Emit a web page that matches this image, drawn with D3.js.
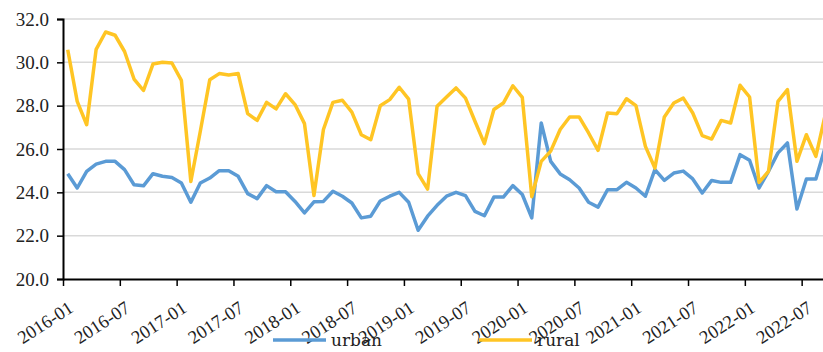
<!DOCTYPE html>
<html>
<head>
<meta charset="utf-8">
<script src="https://cdn.jsdelivr.net/npm/d3@7"></script>
<style>
  body { margin: 0; background: #fff; }
  svg { display: block; }
</style>
</head>
<body>
<div id="chart"></div>
<script>
// monthly categories 2016-01 .. 2022-09
var months = d3.utcMonth.range(new Date(Date.UTC(2016, 0, 1)), new Date(Date.UTC(2022, 9, 1)))
  .map(d3.utcFormat("%Y-%m"));

var urban = [24.86, 24.2, 24.97, 25.3, 25.43, 25.43, 25.05, 24.35, 24.3, 24.86, 24.74, 24.68,
  24.43, 23.54, 24.43, 24.66, 25.0, 25.0, 24.74, 23.94, 23.71, 24.31, 24.03, 24.03,
  23.58, 23.05, 23.56, 23.58, 24.05, 23.82, 23.51, 22.82, 22.9, 23.6, 23.82, 24.0,
  23.54, 22.25, 22.9, 23.4, 23.82, 24.0, 23.85, 23.12, 22.92, 23.78, 23.78, 24.31,
  23.9, 22.82, 27.2, 25.43, 24.85, 24.58, 24.2, 23.54, 23.32, 24.12, 24.12, 24.46,
  24.2, 23.82, 25.05, 24.55, 24.89, 24.98, 24.62, 23.97, 24.55, 24.46, 24.46, 25.74,
  25.48, 24.2, 24.97, 25.82, 26.28, 23.23, 24.62, 24.62, 26.1];

var rural = [30.58, 28.2, 27.12, 30.6, 31.4, 31.25, 30.5, 29.23, 28.7, 29.92, 30.0, 29.97,
  29.17, 24.5, 26.82, 29.2, 29.48, 29.42, 29.48, 27.63, 27.32, 28.15, 27.85, 28.55,
  28.05, 27.17, 23.85, 26.9, 28.15, 28.25, 27.7, 26.66, 26.43, 28.0, 28.28, 28.85,
  28.3, 24.86, 24.15, 27.97, 28.4, 28.82, 28.35, 27.28, 26.25, 27.82, 28.12, 28.92,
  28.38, 23.8, 25.43, 25.9, 26.9, 27.48, 27.48, 26.74, 25.94, 27.66, 27.63, 28.32,
  28.0, 26.12, 25.12, 27.48, 28.12, 28.35, 27.66, 26.62, 26.46, 27.32, 27.2, 28.94,
  28.4, 24.46, 24.97, 28.2, 28.74, 25.43, 26.66, 25.66, 27.6];

var tickLabels = ["2016-01", "2016-07", "2017-01", "2017-07", "2018-01", "2018-07",
  "2019-01", "2019-07", "2020-01", "2020-07", "2021-01", "2021-07", "2022-01", "2022-07"];
var yTicks = [20, 22, 24, 26, 28, 30, 32];

var seriesNames = ["urban", "rural"];
var colors = ["#5B9BD5", "#FFC524"];

var width = 823;
var height = 352;
var serif = "'Liberation Serif'";

var svg = d3.select("#chart")
  .append("svg")
  .attr("width", width)
  .attr("height", height);

var x = d3.scaleLinear().domain([0, months.length]).range([63, 63 + 9.47 * months.length]);
var y = d3.scaleLinear().domain([20, 32]).range([279, 19]);

// grid
svg.selectAll(".grid")
  .data(yTicks.slice(1))
  .enter()
  .append("line")
  .attr("x1", 63)
  .attr("x2", width)
  .attr("y1", function (d) { return y(d); })
  .attr("y2", function (d) { return y(d); })
  .attr("stroke", "#d9d9d9")
  .attr("stroke-width", 1.5);

// y axis
var yAxis = d3.axisLeft(y)
  .tickValues(yTicks)
  .tickFormat(d3.format(".1f"))
  .tickSize(6)
  .tickPadding(8);

var gy = svg.append("g")
  .attr("transform", "translate(63,0)")
  .call(yAxis);
gy.select(".domain").attr("stroke", "#000").attr("stroke-width", 2);
gy.selectAll(".tick line").attr("stroke", "#000").attr("stroke-width", 1.5);
gy.selectAll("text")
  .attr("fill", "#222")
  .style("font-family", serif)
  .style("font-size", "19px");

// x axis
var xAxis = d3.axisBottom(x)
  .tickValues(tickLabels.map(function (t) { return months.indexOf(t); }))
  .tickFormat(function (i) { return months[i]; })
  .tickSize(7)
  .tickSizeOuter(0);

var gx = svg.append("g")
  .attr("transform", "translate(0,279)")
  .call(xAxis);
gx.select(".domain").attr("stroke", "#000").attr("stroke-width", 2);
gx.selectAll(".tick line").attr("stroke", "#000").attr("stroke-width", 1.5);
gx.selectAll("text")
  .attr("fill", "#222")
  .attr("text-anchor", "end")
  .attr("dy", null)
  .attr("y", 0)
  .attr("transform", "translate(11,32) rotate(-33)")
  .style("font-family", serif)
  .style("font-size", "18.5px");

// lines
var line = d3.line()
  .x(function (d, i) { return x(i + 0.5); })
  .y(function (d) { return y(d); });

[urban, rural].forEach(function (s, k) {
  svg.append("path")
    .datum(s)
    .attr("d", line)
    .attr("fill", "none")
    .attr("stroke", colors[k])
    .attr("stroke-width", 3.5)
    .attr("stroke-linejoin", "round");
});

// legend
var legendX = [273, 479];
var lg = svg.selectAll(".legend")
  .data(seriesNames)
  .enter()
  .append("g")
  .attr("transform", function (d, i) { return "translate(" + legendX[i] + ",340)"; });

lg.append("line")
  .attr("x1", 0)
  .attr("x2", 53)
  .attr("stroke", function (d, i) { return colors[i]; })
  .attr("stroke-width", 3.5);

lg.append("text")
  .attr("x", 58)
  .attr("y", 6)
  .attr("fill", "#222")
  .style("font-family", "'DejaVu Serif'")
  .style("font-size", "17px")
  .text(function (d) { return d; });
</script>
</body>
</html>
